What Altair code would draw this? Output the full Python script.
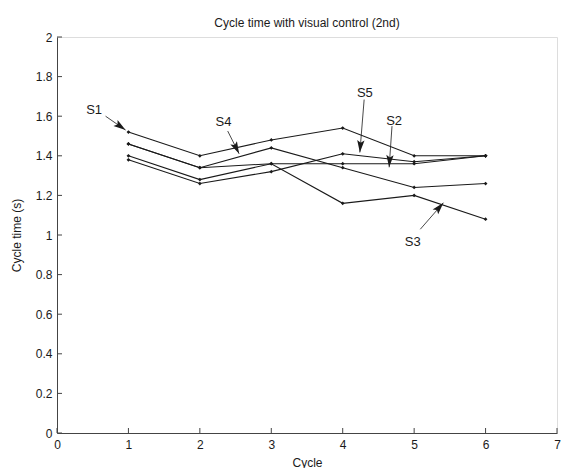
import math
import altair as alt
import pandas as pd

# ---- data ----
cycles = [1, 2, 3, 4, 5, 6]
s1 = [1.52, 1.40, 1.48, 1.54, 1.40, 1.40]
s2 = [1.46, 1.34, 1.36, 1.36, 1.36, 1.40]
s3 = [1.40, 1.28, 1.36, 1.16, 1.20, 1.08]
s4 = [1.46, 1.34, 1.44, 1.34, 1.24, 1.26]
s5 = [1.38, 1.26, 1.32, 1.41, 1.37, 1.40]
series_names = ["S1", "S2", "S3", "S4", "S5"]

label_names = ["S1", "S2", "S3", "S4", "S5"]
label_x = [0.52, 4.72, 4.98, 2.33, 4.31]
label_y = [1.63, 1.575, 0.967, 1.57, 1.717]
tail_x = [0.68, 4.69, 5.086, 2.39, 4.30]
tail_y = [1.60, 1.55, 1.029, 1.525, 1.684]
tip_x = [0.96, 4.65, 5.41, 2.55, 4.24]
tip_y = [1.53, 1.342, 1.163, 1.41, 1.417]

x_ticks = [0, 1, 2, 3, 4, 5, 6, 7]
y_ticks = [0, 0.2, 0.4, 0.6, 0.8, 1.0, 1.2, 1.4, 1.6, 1.8, 2.0]

W, H = 500, 396
X_DOM, Y_DOM = [0, 7], [0, 2]
FONT = "Liberation Sans"
INK = "#1a1a1a"
AXC = "#444444"

rows = []
for name, vals in zip(series_names, [s1, s2, s3, s4, s5]):
    for c, v in zip(cycles, vals):
        rows.append({"series": name, "cycle": c, "time": v})
lines_df = pd.DataFrame(rows)

# arrow head angles in screen space
angles = []
for tx0, ty0, tx1, ty1 in zip(tail_x, tail_y, tip_x, tip_y):
    dxp = (tx1 - tx0) * W / (X_DOM[1] - X_DOM[0])
    dyp = -(ty1 - ty0) * H / (Y_DOM[1] - Y_DOM[0])
    angles.append(math.degrees(math.atan2(dxp, -dyp)) % 360)

ann_df = pd.DataFrame({
    "name": label_names, "lx": label_x, "ly": label_y,
    "tx": tail_x, "ty": tail_y, "hx": tip_x, "hy": tip_y, "angle": angles,
})

xs = alt.Scale(domain=X_DOM, nice=False, zero=False)
ys = alt.Scale(domain=Y_DOM, nice=False, zero=False)

x_axis = alt.Axis(values=x_ticks, ticks=False, grid=False, labelPadding=6,
                  format="d", labelOverlap=False,
                  labelFont=FONT, labelFontSize=12, labelColor=INK,
                  domainColor=AXC, labelFlush=False, title="Cycle",
                  titleFont=FONT, titleFontSize=12, titleFontWeight="normal",
                  titleColor=INK, titleX=W / 2, titleY=29, titleBaseline="middle",
                  titleAlign="center")
y_axis = alt.Axis(values=y_ticks, ticks=False, grid=False, labelPadding=5,
                  labelOverlap=False,
                  labelFont=FONT, labelFontSize=12, labelColor=INK,
                  domainColor=AXC, labelFlush=False,
                  labelExpr="abs(datum.value - round(datum.value)) < 0.001 ? format(datum.value, 'd') : format(datum.value, '.1f')",
                  title="Cycle time (s)", titleFont=FONT, titleFontSize=12,
                  titleFontWeight="normal", titleColor=INK, titleX=-41,
                  titleY=H / 2, titleBaseline="middle", titleAlign="center",
                  titleAngle=270)

base_lines = alt.Chart(lines_df).mark_line(
    color=INK, strokeWidth=1.1,
    point=alt.OverlayMarkDef(filled=True, color=INK, size=14, shape="diamond"),
).encode(
    x=alt.X("cycle:Q", scale=xs, axis=x_axis),
    y=alt.Y("time:Q", scale=ys, axis=y_axis),
    detail="series:N",
)

xtick_df = pd.DataFrame({"v": x_ticks})
ytick_df = pd.DataFrame({"v": y_ticks})
xticks = alt.Chart(xtick_df).mark_rule(color=AXC, strokeWidth=1).encode(
    x=alt.X("v:Q", scale=xs, axis=x_axis), y=alt.value(H), y2=alt.value(H - 5))
yticks = alt.Chart(ytick_df).mark_rule(color=AXC, strokeWidth=1).encode(
    y=alt.Y("v:Q", scale=ys, axis=y_axis), x=alt.value(0), x2=alt.value(5))

arrows = alt.Chart(ann_df).mark_rule(color=INK, strokeWidth=0.8).encode(
    x=alt.X("tx:Q", scale=xs, axis=x_axis), y=alt.Y("ty:Q", scale=ys, axis=y_axis),
    x2="hx:Q", y2="hy:Q")
heads = alt.Chart(ann_df).mark_point(
    filled=True, color=INK, opacity=1, size=150,
    shape="M0,0L-0.6,2L0,1.6L0.6,2Z").encode(
    x=alt.X("hx:Q", scale=xs, axis=x_axis), y=alt.Y("hy:Q", scale=ys, axis=y_axis),
    angle=alt.Angle("angle:Q", scale=None))
labels = alt.Chart(ann_df).mark_text(
    font=FONT, fontSize=13, color=INK, align="center", baseline="middle").encode(
    x=alt.X("lx:Q", scale=xs, axis=x_axis), y=alt.Y("ly:Q", scale=ys, axis=y_axis),
    text="name:N")

chart = alt.layer(base_lines, xticks, yticks, arrows, heads, labels).properties(
    width=W, height=H,
    title=alt.TitleParams("Cycle time with visual control (2nd)", font=FONT,
                          fontSize=12, fontWeight="normal", color=INK,
                          anchor="middle", offset=1),
    padding={"left": 49, "top": 29, "right": 4, "bottom": 35},
    autosize=alt.AutoSizeParams(type="none"),
).configure_view(stroke=None).configure(background="white")

chart.save("out.html", embed_options={"renderer": "svg", "actions": False})
